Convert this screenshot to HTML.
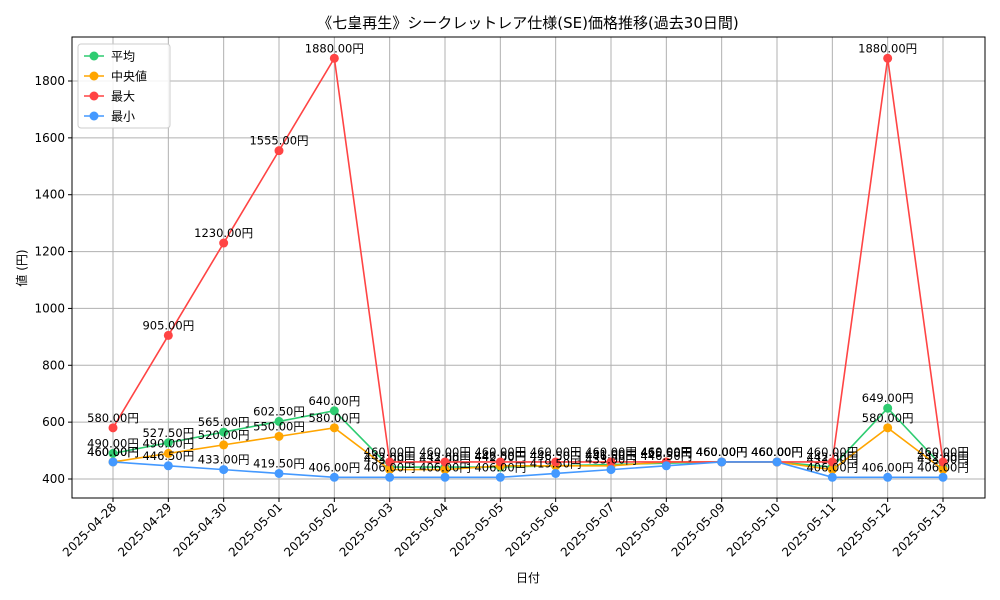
<!DOCTYPE html>
<html><head><meta charset="utf-8"><style>
body{margin:0;background:#fff;}
svg{display:block;font-family:"DejaVu Sans","Noto Sans CJK JP",sans-serif;}
</style></head><body>
<svg id="c" width="1000" height="600"></svg>
<script>
const dates=["2025-04-28","2025-04-29","2025-04-30","2025-05-01","2025-05-02","2025-05-03","2025-05-04","2025-05-05","2025-05-06","2025-05-07","2025-05-08","2025-05-09","2025-05-10","2025-05-11","2025-05-12","2025-05-13"];
const avgVals=[490,527.5,565,602.5,640,442,442,442,446.5,451,455.5,460,460,442,649,442];
const medVals=[460,490,520,550,580,433,433,446.5,446.5,446.5,460,460,460,433,580,433];
const maxVals=[580,905,1230,1555,1880,460,460,460,460,460,460,460,460,460,1880,460];
const minVals=[460,446.5,433,419.5,406,406,406,406,419.5,433,446.5,460,460,406,406,406];
const yTicks=[400,600,800,1000,1200,1400,1600,1800];
const series=[["平均","#2ecc71",avgVals,"series-avg"],["中央値","#ffa500",medVals,"series-median"],["最大","#ff4444",maxVals,"series-max"],["最小","#4499ff",minVals,"series-min"]];
const L=72,R=985,T=37,B=498;
const x=i=>113+i*(943-113)/(dates.length-1);
const y=v=>479-(v-400)*(398/1400);
const s=document.getElementById('c');const NS="http://www.w3.org/2000/svg";
function el(t,a,txt,p){const e=document.createElementNS(NS,t);for(const k in a)e.setAttribute(k,a[k]);if(txt!=null)e.textContent=txt;(p||s).appendChild(e);return e;}
let e;
e=el('text',{x:528,y:28,'text-anchor':'middle','font-size':15},'《七皇再生》シークレットレア仕様(SE)価格推移(過去30日間)');


yTicks.forEach(v=>{
e=el('line',{x1:L,x2:R,y1:y(v),y2:y(v),stroke:'#b0b0b0','stroke-width':1});


el('line',{x1:L-4,x2:L,y1:y(v),y2:y(v),stroke:'#000'});
e=el('text',{x:L-7,y:y(v)+4,'text-anchor':'end','font-size':12},String(v));


});
dates.forEach((d,i)=>{
e=el('line',{x1:x(i),x2:x(i),y1:T,y2:B,stroke:'#b0b0b0','stroke-width':1});


el('line',{x1:x(i),x2:x(i),y1:B,y2:B+4,stroke:'#000'});
e=el('text',{x:x(i)+4,y:B+10,'text-anchor':'end','font-size':12,transform:`rotate(-45 ${x(i)+4} ${B+10})`},d);


});
e=el('rect',{x:L,y:T,width:R-L,height:B-T,fill:'none',stroke:'#000'});


series.forEach(([n,c,vals,nm])=>{
const g=el('g',{});


el('polyline',{points:vals.map((v,i)=>x(i)+','+y(v)).join(' '),fill:'none',stroke:c,'stroke-width':1.6},null,g);
vals.forEach((v,i)=>{
const p=el('circle',{cx:x(i),cy:y(v),r:4.5,fill:c},null,g);


const t=el('text',{x:x(i),y:y(v)-6,'text-anchor':'middle','font-size':11.5},v.toFixed(2)+'円',g);


});
});
e=el('text',{x:528,y:582,'text-anchor':'middle','font-size':12},'日付');


e=el('text',{x:26,y:268,'text-anchor':'middle','font-size':12,transform:'rotate(-90 26 268)'},'値 (円)');


const lg=el('g',{});


el('rect',{x:78,y:44,width:92,height:84,rx:3,fill:'#fff','fill-opacity':0.85,stroke:'#ccc'},null,lg);
series.forEach(([n,c],k)=>{
const yy=56+k*20;
const g=el('g',{},null,lg);


el('line',{x1:84,x2:104,y1:yy,y2:yy,stroke:c,'stroke-width':1.6},null,g);
el('circle',{cx:94,cy:yy,r:4.5,fill:c},null,g);
el('text',{x:111,y:yy+4.5,'font-size':12},n,g);
});
</script>
</body></html>
